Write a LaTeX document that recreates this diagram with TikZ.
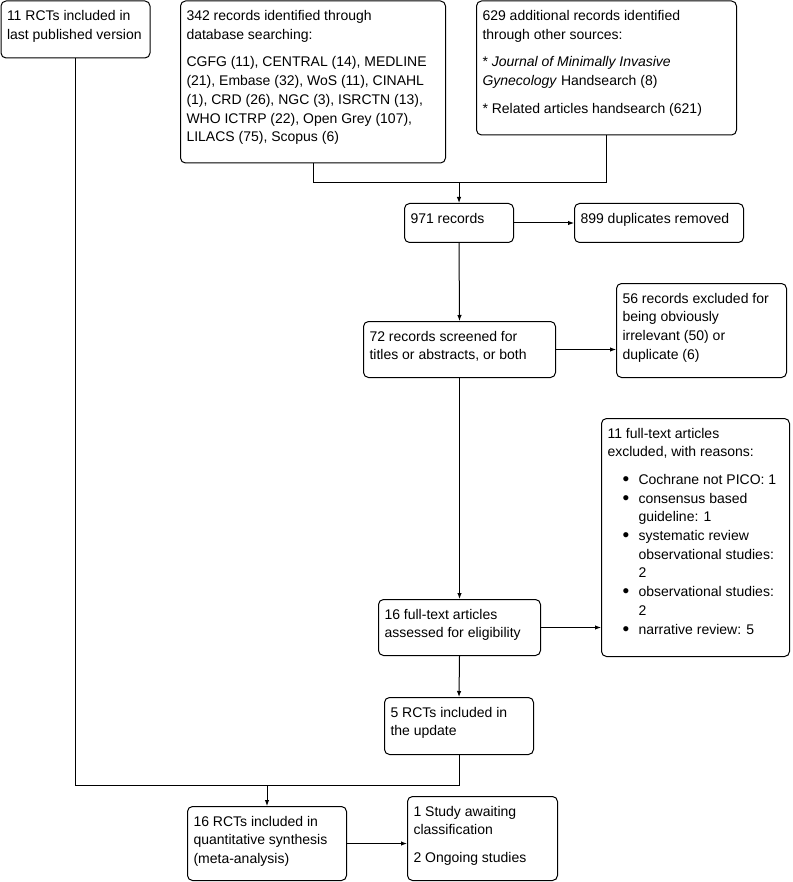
\documentclass[tikz,border=0pt]{standalone}
\usepackage{fontspec}
\setmainfont{Liberation Sans}
\usetikzlibrary{arrows.meta}

% box text: width, height, lines (top left, as in the flow chart)
\newcommand{\boxtext}[3]{\parbox[c][#2][t]{#1}{\raggedright\leftskip=6pt\vspace*{6.5pt}\strut #3}}
\newcommand{\bul}{\hspace*{15pt}\makebox[16pt][l]{\raisebox{-1.2pt}{\fontsize{19}{19}\selectfont\textbullet}}}
\newcommand{\cont}{\hspace*{31pt}}

\begin{document}
\begin{tikzpicture}[
    x=1pt, y=-1pt,
    >={Latex[length=6pt,width=4.5pt]},
    font=\fontsize{14}{18.7}\selectfont,
    rec/.style={rectangle, draw=black, line width=1pt, rounded corners=5pt, inner sep=0pt, anchor=north west},
    link/.style={draw=black, line width=1pt}
]
    \useasboundingbox (0,0) rectangle (792,882);

    % 1. Identification
    \node[rec] (prev) at (0.5,0.5) {\boxtext{149pt}{57pt}{11 RCTs included in\\ last published version}};
    \node[rec] (db) at (180,0.5) {\boxtext{265pt}{162pt}{342 records identified through\\ database searching:\\[9pt]
        CGFG (11), CENTRAL (14), MEDLINE\\ (21), Embase (32), WoS (11), CINAHL\\ (1), CRD (26), NGC (3), ISRCTN (13),\\
        WHO ICTRP (22), Open Grey (107),\\ LILACS (75), Scopus (6)}};
    \node[rec] (other) at (476,0.5) {\boxtext{260pt}{134pt}{629 additional records identified\\ through other sources:\\[9pt]
        * \textit{Journal of Minimally Invasive}\\ \textit{Gynecology} Handsearch (8)\\[9pt]
        * Related articles handsearch (621)}};

    % Arrows: sources to records
    \node[rec] (all) at (404,203) {\boxtext{109pt}{39pt}{971 records}};
    \coordinate (merge) at (all.north |- 0,183);
    \draw[link] (db.south) |- (merge);
    \draw[link] (other.south) |- (merge);
    \draw[link, ->] (merge) -- (all.north);

    % 2. Duplicates
    \node[rec] (dup) at (574,203) {\boxtext{169pt}{39pt}{899 duplicates removed}};
    \draw[link, ->] (all.east) -- (dup.west);

    % 3. Screening
    \node[rec] (scr) at (363,321) {\boxtext{192pt}{56pt}{72 records screened for\\ titles or abstracts, or both}};
    \node[rec] (scrout) at (616,283) {\boxtext{170pt}{94pt}{56 records excluded for\\ being obviously\\ irrelevant (50) or\\ duplicate (6)}};
    \draw[link, ->] (all.south) -- (scr.north);
    \draw[link, ->] (scr.east) -- (scr.east -| scrout.west);

    % 4. Eligibility
    \node[rec] (ft) at (378,599) {\boxtext{162pt}{56pt}{16 full-text articles\\ assessed for eligibility}};
    \node[rec] (ftout) at (601,418) {\boxtext{188pt}{238pt}{11 full-text articles\\ excluded, with reasons:\\[9pt]
        \bul Cochrane not PICO: 1\\ \bul consensus based\\ \cont guideline: 1\\
        \bul systematic review\\ \cont observational studies:\\ \cont 2\\
        \bul observational studies:\\ \cont 2\\ \bul narrative review: 5}};
    \draw[link, ->] (scr.south) -- (ft.north);
    \draw[link, ->] (ft.east) -- (ft.east -| ftout.west);

    % 5. Included
    \node[rec] (upd) at (384,697) {\boxtext{149pt}{57pt}{5 RCTs included in\\ the update}};
    \draw[link, ->] (ft.south) -- (upd.north);

    \node[rec] (incl) at (187,806) {\boxtext{159pt}{74pt}{16 RCTs included in\\ quantitative synthesis\\ (meta-analysis)}};
    \node[rec] (wait) at (407,796) {\boxtext{150pt}{84pt}{1 Study awaiting\\ classification\\[9pt] 2 Ongoing studies}};

    % Arrows: previous and update to synthesis
    \coordinate (join) at (incl.north |- 0,785);
    \draw[link] (prev.south) |- (upd.south |- join) -- (upd.south);
    \draw[link, ->] (join) -- (incl.north);
    \draw[link, ->] (incl.east) -- (incl.east -| wait.west);

\end{tikzpicture}
\end{document}
